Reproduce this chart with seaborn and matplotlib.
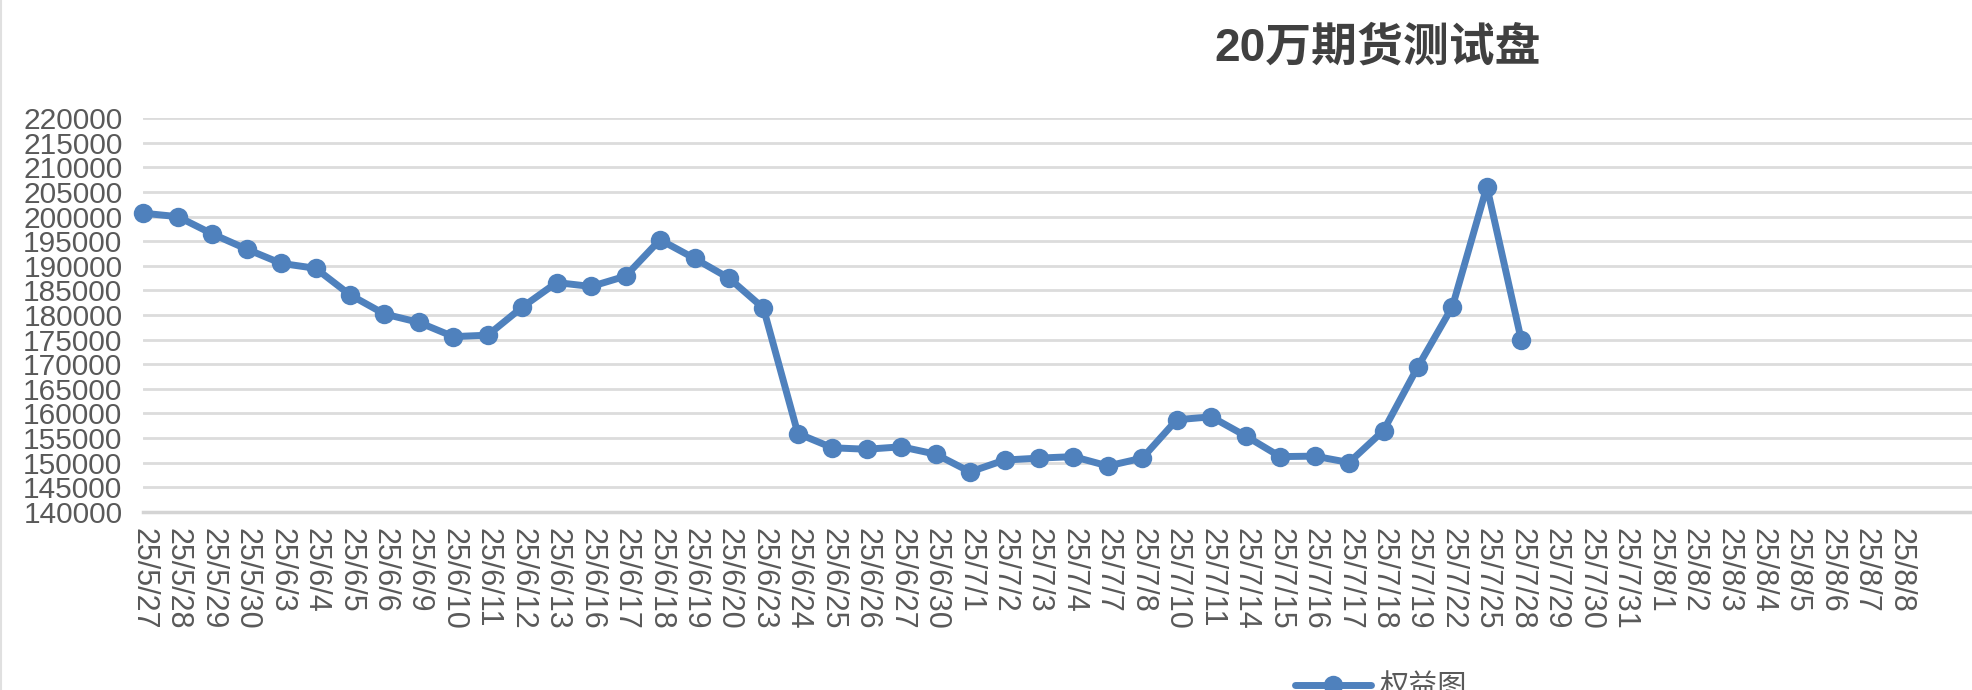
import matplotlib
matplotlib.use("Agg")
import matplotlib.pyplot as plt
from matplotlib.lines import Line2D
import seaborn as sns
import pandas as pd

# ---- data ----
dates = ["25/5/27", "25/5/28", "25/5/29", "25/5/30",
         "25/6/3", "25/6/4", "25/6/5", "25/6/6", "25/6/9", "25/6/10", "25/6/11",
         "25/6/12", "25/6/13", "25/6/16", "25/6/17", "25/6/18", "25/6/19", "25/6/20",
         "25/6/23", "25/6/24", "25/6/25", "25/6/26", "25/6/27", "25/6/30",
         "25/7/1", "25/7/2", "25/7/3", "25/7/4", "25/7/7", "25/7/8", "25/7/10",
         "25/7/11", "25/7/14", "25/7/15", "25/7/16", "25/7/17", "25/7/18",
         "25/7/19", "25/7/22", "25/7/25", "25/7/28", "25/7/29", "25/7/30",
         "25/7/31", "25/8/1", "25/8/2", "25/8/3", "25/8/4", "25/8/5", "25/8/6",
         "25/8/7", "25/8/8"]
equity = [200700, 200000, 196500, 193400, 190500, 189500, 184100, 180200,
          178500, 175600, 175900, 181600, 186600, 185800, 187900, 195300,
          191500, 187500, 181400, 155900, 153000, 152700, 153200, 151700,
          148100, 150500, 150900, 151200, 149300, 150900, 158700, 159300,
          155400, 151200, 151300, 150000, 156500, 169500, 181700, 206100,
          174900]
series_name = "权益图"
title = "20万期货测试盘"
y_ticks = list(range(140000, 220001, 5000))

BLUE = "#4f81bd"
GREY_TXT = "#595959"
GRID = "#dcdcdc"

sns.set_theme(style="white")
plt.rcParams["font.family"] = ["Liberation Sans", "Noto Sans CJK SC", "DejaVu Sans"]

W, H = 1972, 690
fig = plt.figure(figsize=(W / 100, H / 100), dpi=100)
ax = fig.add_axes([143.3 / W, 1 - 511.7 / H, (W - 143.3) / W, 393.4 / H])

df = pd.DataFrame({"idx": list(range(len(equity))), "value": equity})
sns.lineplot(data=df, x="idx", y="value", ax=ax, color=BLUE, linewidth=5,
             marker="o", markersize=14, markeredgewidth=0, zorder=5, clip_on=False)

n_ticks = len(dates) + 2
ax.set_xlim(0, (W - 143.3) / 34.45)
ax.set_ylim(y_ticks[0], y_ticks[-1])
ax.set_xticks(list(range(n_ticks)))
ax.set_xticklabels(dates + [""] * (n_ticks - len(dates)), rotation=270,
                   ha="center", va="top", fontsize=22, color=GREY_TXT)
ax.set_yticks(y_ticks)
ax.set_yticklabels([str(v) for v in y_ticks], fontsize=21.5, color=GREY_TXT)
ax.set_xlabel("")
ax.set_ylabel("")

ax.yaxis.grid(True, color=GRID, linewidth=2)
ax.xaxis.grid(False)
ax.set_axisbelow(True)
for s in ["left", "right", "top"]:
    ax.spines[s].set_visible(False)
ax.spines["bottom"].set_color("#d4d4d4")
ax.spines["bottom"].set_linewidth(2.5)
ax.tick_params(axis="x", direction="inout", length=16, width=2, color="#d4d4d4", pad=4)
ax.tick_params(axis="y", length=0, pad=15)

fig.text(1378 / W, 1 - 49 / H, title, ha="center", va="center", fontsize=33,
         fontweight="bold", color="#404040")

handle = Line2D([], [], color=BLUE, linewidth=5, marker="o", markersize=14,
                markeredgewidth=0)
fig.legend([handle], [series_name], loc="center left", frameon=False,
           bbox_to_anchor=(1295 / W, 3 / H), fontsize=21, handlelength=2.6,
           handletextpad=0.3, labelcolor=GREY_TXT, borderaxespad=0, borderpad=0)

fig.add_artist(Line2D([1 / W, 1 / W], [0, 1], color="#e0e0e0", linewidth=1.5,
                      transform=fig.transFigure))

fig.savefig("out.png", dpi=100, facecolor="white")
